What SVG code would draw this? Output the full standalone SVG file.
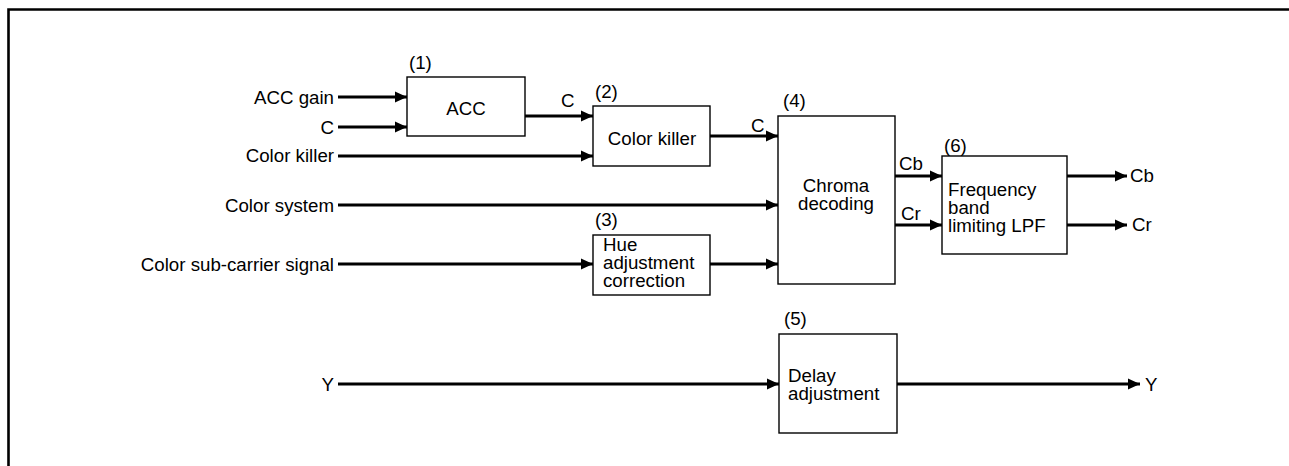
<svg xmlns="http://www.w3.org/2000/svg" width="1289" height="466" viewBox="0 0 1289 466">
<defs>
<style>
text{font-family:"Liberation Sans",Arial,sans-serif;font-size:18.7px;fill:#000}
.r{text-anchor:end}
.m{text-anchor:middle}
.box{fill:#fff;stroke:#000;stroke-width:1.4}
.w{stroke:#000;stroke-width:3;fill:none}
.frame{stroke:#000;stroke-width:2.6;fill:none}
</style>
<marker id="ah" markerUnits="userSpaceOnUse" markerWidth="13" markerHeight="12" refX="12" refY="5.5" orient="auto" viewBox="0 0 13 11">
<path d="M0,0 L12,5.5 L0,11 z" fill="#000"/>
</marker>
</defs>
<rect width="1289" height="466" fill="#fff"/>
<path class="frame" d="M8.5,466 V9.5 H1289"/>

<g id="inputs">
<text class="r" x="334" y="104">ACC gain</text>
<text class="r" x="334" y="133.5">C</text>
<text class="r" x="334" y="161.5">Color killer</text>
<text class="r" x="334" y="211.5">Color system</text>
<text class="r" x="334" y="270.5">Color sub-carrier signal</text>
<text class="r" x="334" y="390.5">Y</text>
</g>

<g id="node-acc">
<rect class="box" x="407" y="77" width="118" height="59"/>
<text x="409" y="69">(1)</text>
<text class="m" x="466" y="115">ACC</text>
</g>

<g id="node-color-killer">
<rect class="box" x="593" y="106" width="117" height="60"/>
<text x="595" y="98">(2)</text>
<text class="m" x="652" y="145">Color killer</text>
</g>

<g id="node-hue">
<rect class="box" x="593" y="235" width="117" height="60"/>
<text x="595" y="226">(3)</text>
<text x="603" y="251">Hue</text>
<text x="603" y="269">adjustment</text>
<text x="603" y="287">correction</text>
</g>

<g id="node-chroma">
<rect class="box" x="778" y="116" width="117" height="168"/>
<text x="783" y="107">(4)</text>
<text class="m" x="836" y="192">Chroma</text>
<text class="m" x="836" y="210">decoding</text>
</g>

<g id="node-delay">
<rect class="box" x="779" y="334" width="118" height="99"/>
<text x="784" y="325">(5)</text>
<text x="788" y="382">Delay</text>
<text x="788" y="400">adjustment</text>
</g>

<g id="node-lpf">
<rect class="box" x="942" y="156" width="125" height="98"/>
<text x="944" y="152">(6)</text>
<text x="948" y="196">Frequency</text>
<text x="948" y="214">band</text>
<text x="948" y="232">limiting LPF</text>
</g>

<g id="connectors">
<path class="w" d="M338,97 H407" marker-end="url(#ah)"/>
<path class="w" d="M338,127 H407" marker-end="url(#ah)"/>
<path class="w" d="M338,156 H593" marker-end="url(#ah)"/>
<path class="w" d="M338,205 H778" marker-end="url(#ah)"/>
<path class="w" d="M338,264 H593" marker-end="url(#ah)"/>
<path class="w" d="M338,384 H779" marker-end="url(#ah)"/>
<path class="w" d="M525,116 H593" marker-end="url(#ah)"/>
<path class="w" d="M710,136 H778" marker-end="url(#ah)"/>
<path class="w" d="M710,264 H778" marker-end="url(#ah)"/>
<path class="w" d="M895,176 H942" marker-end="url(#ah)"/>
<path class="w" d="M895,225 H942" marker-end="url(#ah)"/>
<path class="w" d="M1067,176 H1127" marker-end="url(#ah)"/>
<path class="w" d="M1067,225 H1127" marker-end="url(#ah)"/>
<path class="w" d="M897,384 H1140" marker-end="url(#ah)"/>
<text x="561" y="107">C</text>
<text x="751" y="132">C</text>
<text x="899" y="170">Cb</text>
<text x="901" y="220">Cr</text>
<text x="1130" y="182">Cb</text>
<text x="1132" y="231">Cr</text>
<text x="1145" y="390.5">Y</text>
</g>
</svg>
